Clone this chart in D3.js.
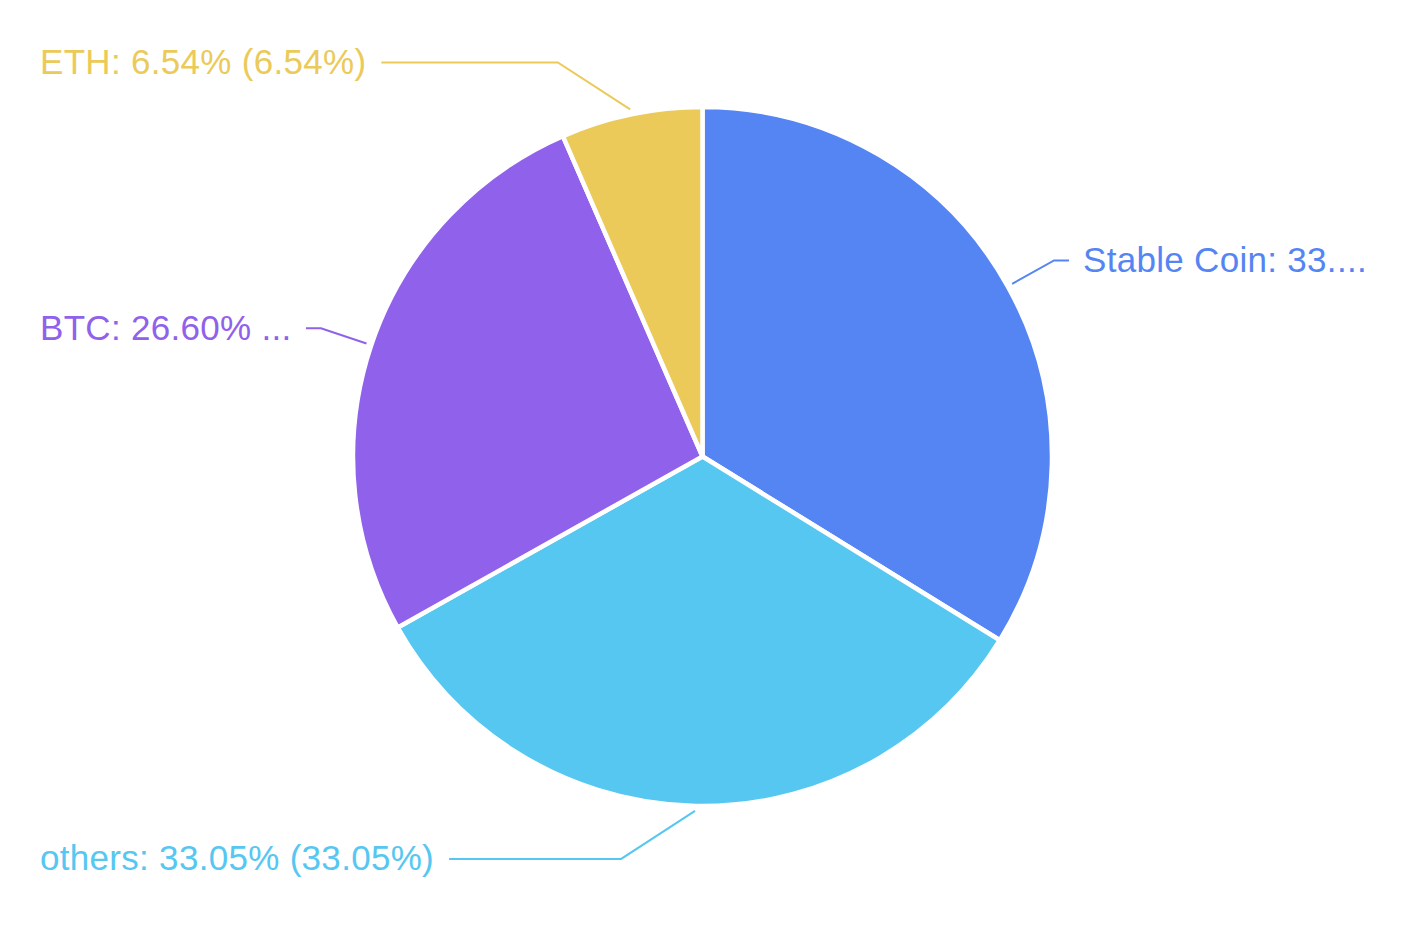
<!DOCTYPE html>
<html><head><meta charset="utf-8">
<script src="https://cdn.jsdelivr.net/npm/d3@7"></script>
<style>html,body{margin:0;padding:0;background:#fff;} svg{display:block;}</style>
</head><body>
<svg id="chart" width="1419" height="948"></svg>
<script>
// ---- data ----
const categories = ["Stable Coin", "others", "BTC", "ETH"];
const shares = [33.81, 33.05, 26.60, 6.54];
const palette = ["#5585F2", "#56C7F1", "#9061EB", "#EBCA5A"];

// ---- layout constants ----
const W = 1419, H = 948;
const cx = 702.5, cy = 456.5, R = 349.5;
const FONT_FAMILY = "'Liberation Sans', Arial, Helvetica, sans-serif";
const FONT_SIZE = 35;
const LETTER = 0.3;
const EDGE = 40, LEN1 = 53, LEN2 = 15, GAP = 15, MIN_TURN = 147;

const svg = d3.select("#chart");
const total = d3.sum(shares);
const data = categories.map((c, i) => ({name: c, value: shares[i], color: palette[i]}));
const pie = d3.pie().sort(null).value(d => d.value);
const arcs = pie(data);
const arc = d3.arc().innerRadius(0).outerRadius(R);

const g = svg.append("g").attr("transform", `translate(${cx},${cy})`);
g.selectAll("path.slice").data(arcs).join("path")
  .attr("class", "slice")
  .attr("d", arc)
  .attr("fill", d => d.data.color)
  .attr("stroke", "#fff")
  .attr("stroke-width", 4.5)
  .attr("stroke-linejoin", "round");

// text measuring
const measurer = svg.append("text")
  .attr("font-family", FONT_FAMILY).attr("font-size", FONT_SIZE)
  .attr("letter-spacing", LETTER)
  .style("visibility", "hidden");
function tw(s) { measurer.text(s); return measurer.node().getComputedTextLength(); }
const aW = tw("a"), ellW = tw("...");
function truncate(s, cw) {
  let lw = tw(s);
  if (lw <= cw) return s;
  const content = cw - ellW;
  let line = s;
  for (let j = 0; ; j++) {
    if (lw <= content || j >= 2) { line += "..."; break; }
    let sub;
    if (j === 0) {
      let w = 0, i = 0;
      for (; i < line.length && w < content; i++) w += aW;
      sub = i;
    } else {
      sub = Math.floor(line.length * content / lw);
    }
    line = line.substr(0, sub);
    lw = tw(line);
  }
  return line;
}
function limitTurn(p0, p1, p2, minDeg) {
  const min = minDeg * Math.PI / 180;
  let d1 = [p0[0] - p1[0], p0[1] - p1[1]], d2 = [p2[0] - p1[0], p2[1] - p1[1]];
  const l1 = Math.hypot(d1[0], d1[1]), l2 = Math.hypot(d2[0], d2[1]);
  if (l1 < 1e-3 || l2 < 1e-3) return p1;
  d1 = [d1[0] / l1, d1[1] / l1]; d2 = [d2[0] / l2, d2[1] / l2];
  const c = d1[0] * d2[0] + d1[1] * d2[1];
  if (Math.cos(min) < c) {
    const t0 = (p0[0] - p1[0]) * d2[0] + (p0[1] - p1[1]) * d2[1];
    const proj = [p1[0] + d2[0] * t0, p1[1] + d2[1] * t0];
    const dist = Math.hypot(p0[0] - proj[0], p0[1] - proj[1]);
    const k = dist / Math.tan(Math.PI - min);
    let np = [proj[0] + d2[0] * k, proj[1] + d2[1] * k];
    const t = (np[0] - p1[0]) / (p2[0] - p1[0]);
    if (t < 0) np = p1.slice(); else if (t > 1) np = p2.slice();
    return np;
  }
  return p1;
}

const labels = arcs.map(a => {
  const mid = (a.startAngle + a.endAngle) / 2;
  const dx = Math.sin(mid), dy = -Math.cos(mid);
  const pct = (a.data.value / total * 100).toFixed(2) + "%";
  const full = `${a.data.name}: ${pct} (${pct})`;
  const p0 = [cx + (R + 5) * dx, cy + (R + 5) * dy];
  let p1 = [cx + (R + LEN1) * dx, cy + (R + LEN1) * dy];
  let p2, txt, tx;
  if (dx >= 0) {
    p2 = [p1[0] + LEN2, p1[1]];
    tx = p2[0] + 14;
    txt = truncate(full, W - 4 - tx);
  } else {
    const cont = p1[0] - LEN2 - GAP - EDGE;
    txt = truncate(full, cont);
    tx = EDGE;
    p2 = [txt !== full ? p1[0] - LEN2 : EDGE + tw(txt) + GAP, p1[1]];
  }
  p1 = limitTurn(p0, p1, p2, MIN_TURN);
  return {pts: [p0, p1, p2], txt, tx, ty: p2[1], color: a.data.color};
});
measurer.remove();

svg.selectAll("path.lbl-line").data(labels).join("path")
  .attr("class", "lbl-line")
  .attr("d", d => d3.line()(d.pts))
  .attr("fill", "none")
  .attr("stroke", d => d.color)
  .attr("stroke-width", 2);

svg.selectAll("text.lbl").data(labels).join("text")
  .attr("class", "lbl")
  .attr("x", d => d.tx)
  .attr("y", d => d.ty + 11.5)
  .attr("font-family", FONT_FAMILY)
  .attr("font-size", FONT_SIZE)
  .attr("letter-spacing", LETTER)
  .attr("fill", d => d.color)
  .text(d => d.txt);
</script>
</body></html>
